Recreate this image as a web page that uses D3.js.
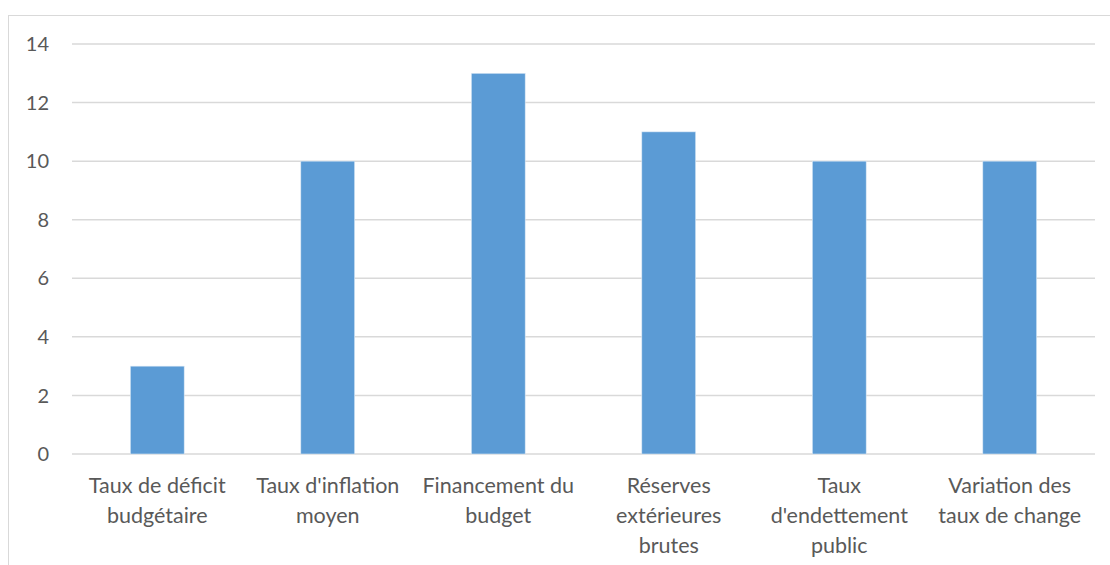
<!DOCTYPE html>
<html><head><meta charset="utf-8">
<script src="https://cdn.jsdelivr.net/npm/d3@7"></script>
<style>body{margin:0;background:#fff}svg{display:block}</style>
</head><body><svg id="c" width="1110" height="565"></svg>
<script>
const categories = [
  ["Taux de déficit","budgétaire"],
  ["Taux d'inflation","moyen"],
  ["Financement du","budget"],
  ["Réserves","extérieures","brutes"],
  ["Taux","d'endettement","public"],
  ["Variation des","taux de change"]
];
const values = [3, 10, 13, 11, 10, 10];
const yTicks = [0, 2, 4, 6, 8, 10, 12, 14];

const svg = d3.select("#c");
const font = "Lato, 'Open Sans', sans-serif";
// chart border
svg.append("rect").attr("x", 8.5).attr("y", 15.5).attr("width", 1120).attr("height", 600)
  .attr("fill", "none").attr("stroke", "#d9d9d9").attr("stroke-width", 1);

const x = d3.scaleBand().domain(d3.range(categories.length)).range([72, 1095]).paddingInner(0.684).paddingOuter(0.342);
const y = d3.scaleLinear().domain([0, 14]).range([454, 44]);

// gridlines
svg.append("g").selectAll("line").data(yTicks).join("line")
  .attr("x1", 72).attr("x2", 1095)
  .attr("y1", d => y(d)).attr("y2", d => y(d))
  .attr("stroke", "#d9d9d9").attr("stroke-width", 1.5);

// y labels
svg.append("g").selectAll("text").data(yTicks).join("text")
  .attr("x", 49).attr("y", d => y(d)).attr("dy", "0.36em")
  .attr("text-anchor", "end").attr("font-family", font).attr("font-size", 20)
  .attr("fill", "#595959").text(d => d);

// bars
svg.append("g").selectAll("rect").data(values).join("rect")
  .attr("x", (d, i) => x(i)).attr("width", x.bandwidth())
  .attr("y", d => y(d)).attr("height", d => y(0) - y(d))
  .attr("fill", "#5b9bd5").attr("stroke", "#dce9f5").attr("stroke-width", 0.6);

// x labels
const lg = svg.append("g").selectAll("text").data(categories).join("text")
  .attr("text-anchor", "middle").attr("font-family", font).attr("font-size", 21.5)
  .attr("fill", "#595959");
lg.each(function(lines, i) {
  const t = d3.select(this);
  const cx = x(i) + x.bandwidth() / 2;
  lines.forEach((ln, j) => {
    t.append("tspan").attr("x", cx).attr("y", 493 + j * 30).text(ln);
  });
});
</script></body></html>
